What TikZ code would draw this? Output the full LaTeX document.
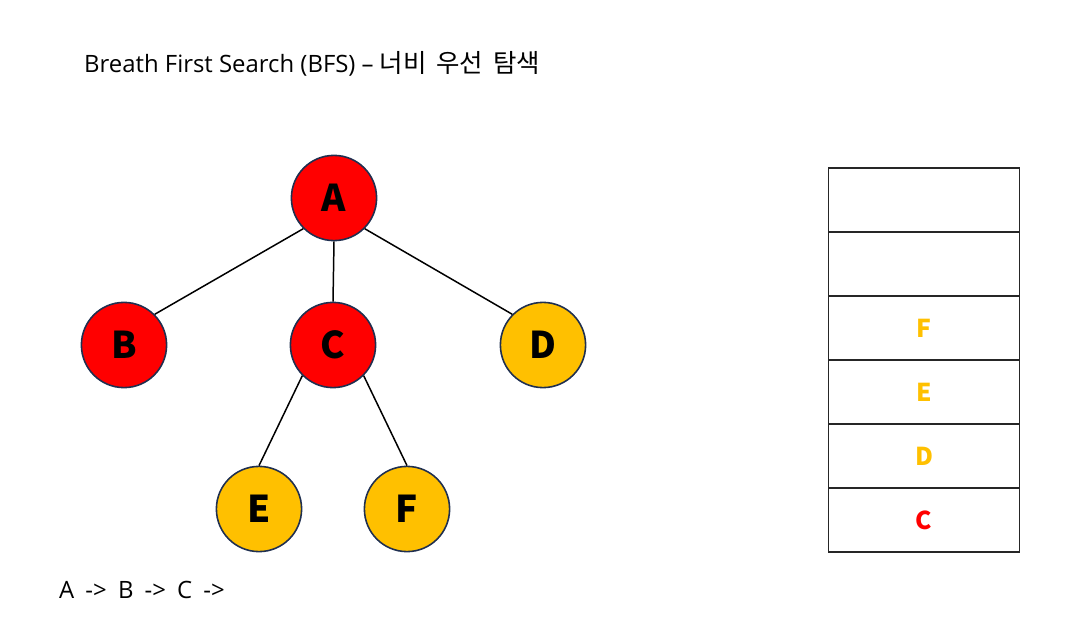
\documentclass[tikz,border=0pt]{standalone}
\usepackage{fontspec}
\setmainfont{Open Sans}
\newfontfamily\krfont{Noto Sans CJK KR}
\newfontfamily\krtitle[WordSpace=1.7]{Noto Sans CJK KR}
\newfontfamily\widefont[WordSpace=1.8]{Open Sans}
\definecolor{visitred}{RGB}{255,0,0}
\definecolor{queueyellow}{RGB}{255,192,0}
\definecolor{circleline}{RGB}{31,47,80}
\tikzset{
    vertex/.style={circle, draw=circleline, line width=0.9pt, minimum size=48.5pt, inner sep=0pt, font=\krfont\fontsize{21}{21}\selectfont\bfseries},
    visited/.style={vertex, fill=visitred},
    queued/.style={vertex, fill=queueyellow},
    edge/.style={line width=0.85pt, black},
    cell/.style={draw=black!85, line width=0.85pt, minimum width=108.8pt, minimum height=36.3pt, inner sep=0pt, font=\krfont\fontsize{14}{14}\selectfont\bfseries}
}
\begin{document}
\begin{tikzpicture}[x=0.02cm, y=-0.02cm]

        \useasboundingbox (0,0) rectangle (1069,635);

        \node[anchor=west, font=\fontsize{13.6}{13.6}\selectfont] (title) at (78,64) {Breath First Search (BFS) – {\krtitle\fontsize{14.5}{14.5}\selectfont 너비 우선 탐색}};

        % tree
        \node[visited] (A) at (334,198) {A};
        \node[visited] (B) at (124,345) {B};
        \node[visited] (C) at (333,345) {C};
        \node[queued] (D) at (543,345) {D};
        \node[queued] (E) at (259,509) {E};
        \node[queued] (F) at (407,509) {F};

        \draw[edge] (A.south west) -- (B.north east);
        \draw[edge] (A.south) -- (C.north);
        \draw[edge] (A.south east) -- (D.north west);
        \draw[edge] (C.south west) -- (E.north);
        \draw[edge] (C.south east) -- (F.north);

        % queue
        \node[cell] (q1) at (924,200) {};
        \node[cell] (q2) at (924,264) {};
        \node[cell, text=queueyellow] (q3) at (924,328) {F};
        \node[cell, text=queueyellow] (q4) at (924,392) {E};
        \node[cell, text=queueyellow] (q5) at (924,456) {D};
        \node[cell, text=visitred] (q6) at (924,520) {C};

        \node[anchor=west, font=\widefont\fontsize{13.6}{13.6}\selectfont] (order) at (53,590) {A -> B -> C ->};

    \end{tikzpicture}
\end{document}
